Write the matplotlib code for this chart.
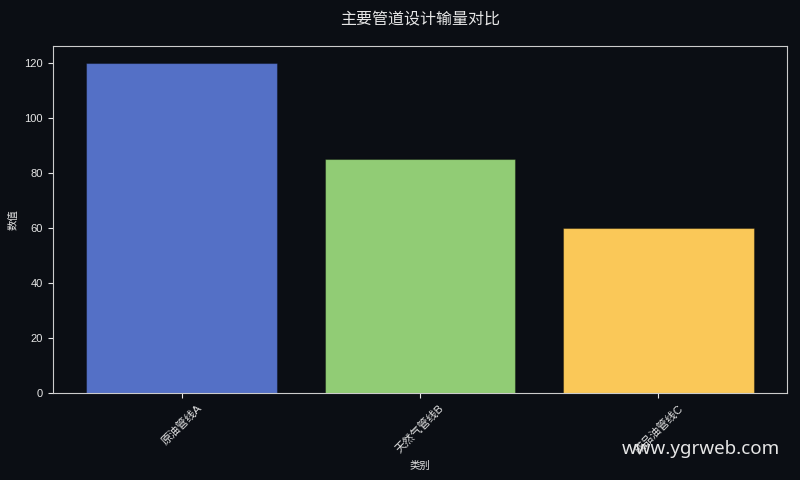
import matplotlib
matplotlib.use("Agg")
import matplotlib.pyplot as plt

plt.rcParams['font.family'] = ['Liberation Sans', 'Noto Sans CJK SC', 'DejaVu Sans']

categories = ["原油管线A", "天然气管线B", "成品油管线C"]
values = [120, 85, 60]
colors = ["#5470c6", "#91cc75", "#fac858"]

bg = "#0b0e14"
fg = "#e6e6e6"

fig, ax = plt.subplots(figsize=(8, 4.8), dpi=100)
fig.patch.set_facecolor(bg)
ax.set_facecolor(bg)

ax.bar(categories, values, color=colors, width=0.8, edgecolor=(0, 0, 0, 0.35), linewidth=0.8)

ax.set_title("主要管道设计输量对比", color=fg, fontsize=11.5, pad=16,
             family=['Noto Sans CJK SC', 'DejaVu Sans'])
ax.set_xlabel("类别", color=fg, fontsize=7.5)
ax.set_ylabel("数值", color=fg, fontsize=7.5)
ax.tick_params(colors=fg, labelsize=8)
plt.setp(ax.get_xticklabels(), rotation=45)
for s in ax.spines.values():
    s.set_color("#cccccc")

fig.subplots_adjust(left=0.066, right=0.984, top=0.904, bottom=0.181)
fig.text(0.975, 0.064, "www.ygrweb.com", color=fg, fontsize=13.5, ha="right",
         va="center", family=["Noto Sans", "DejaVu Sans"])

fig.savefig("out.png", facecolor=bg)
